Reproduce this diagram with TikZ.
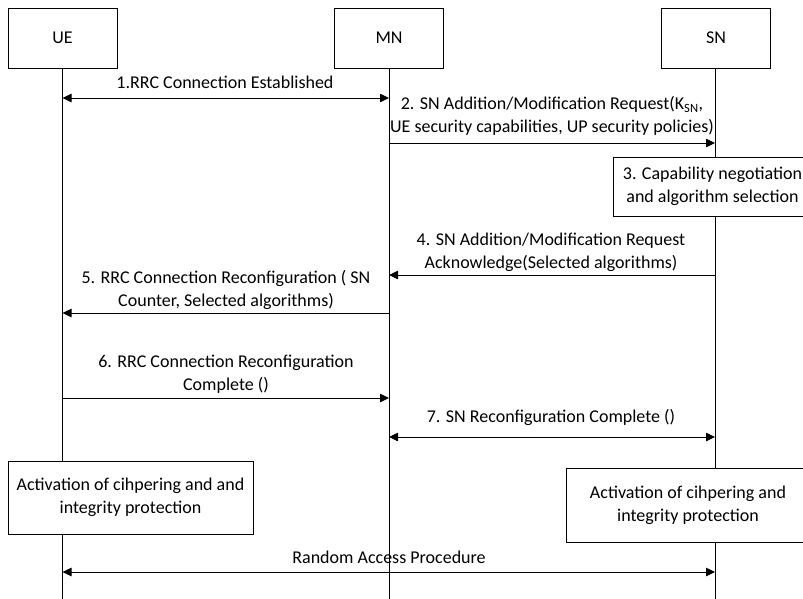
\documentclass[tikz,border=0pt]{standalone}
\usepackage{fontspec}
\setmainfont{Carlito}
\usetikzlibrary{arrows.meta}
\begin{document}
\begin{tikzpicture}[x=1pt,y=-1pt,
  font=\fontsize{18}{23}\selectfont,
  line width=0.8pt,
  entity/.style={draw, minimum width=109pt, minimum height=60pt, inner sep=0pt},
  actbox/.style={draw, align=center, inner sep=0pt},
  msg/.style={-{Triangle[length=9pt,width=8.5pt]}},
  both/.style={{Triangle[length=9pt,width=8.5pt]}-{Triangle[length=9pt,width=8.5pt]}},
  lbl/.style={align=center, inner sep=0pt}]
\useasboundingbox (0,0) rectangle (803,598);

% participants
\node[entity] (ue) at (62.5,38) {UE};
\node[entity] (mn) at (389,38) {MN};
\node[entity] (sn) at (716,38) {SN};

% lifelines
\coordinate (ueEnd) at (63,600);
\coordinate (mnEnd) at (389,600);
\coordinate (snEnd) at (715,600);
\draw (ue.south) -- (ue.south |- ueEnd);
\draw (mn.south) -- (mn.south |- mnEnd);
\draw (sn.south) ++(-1,0) coordinate (snTop) -- (snTop |- snEnd);

% local processing boxes
\node[actbox, fill=white, minimum width=199pt, minimum height=59pt] (neg) at (712.5,186.5)
  {3. Capability negotiation\\and algorithm selection};
\node[actbox, fill=white, minimum width=245pt, minimum height=73pt] (actue) at (130.5,497.5)
  {Activation of cihpering and and\\integrity protection};
\node[actbox, fill=white, minimum width=244pt, minimum height=74pt] (actsn) at (688,505)
  {Activation of cihpering and\\integrity protection};

% messages
\draw[both] (ue.south |- 0,98) -- (mn.south |- 0,98);
\node[lbl] (l1) at (225,82) {1.RRC Connection Established};

\draw[msg] (mn.south |- 0,143) -- (snTop |- 0,143);
\node[lbl] (l2) at (552,116) {2. SN Addition/Modification Request(K\textsubscript{SN},\\UE security capabilities, UP security policies)};

\draw[msg] (snTop |- 0,275) -- (mn.south |- 0,275);
\node[lbl] (l4) at (551,252) {4. SN Addition/Modification Request\\Acknowledge(Selected algorithms)};

\draw[msg] (mn.south |- 0,313) -- (ue.south |- 0,313);
\node[lbl] (l5) at (226,290) {5. RRC Connection Reconfiguration ( SN\\Counter, Selected algorithms)};

\draw[msg] (ue.south |- 0,398) -- (mn.south |- 0,398);
\node[lbl] (l6) at (226,374) {6. RRC Connection Reconfiguration\\Complete ()};

\draw[both] (mn.south |- 0,437) -- (snTop |- 0,437);
\node[lbl] (l7) at (551,417) {7. SN Reconfiguration Complete ()};

\draw[both] (ue.south |- 0,572) -- (snTop |- 0,572);
\node[lbl] (l8) at (389,557) {Random Access Procedure};
\end{tikzpicture}
\end{document}
